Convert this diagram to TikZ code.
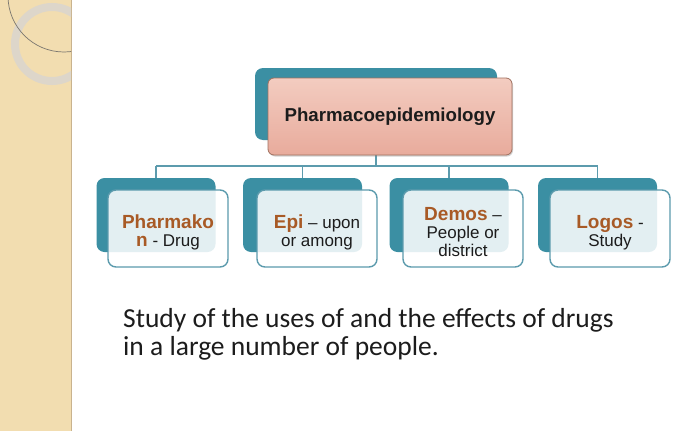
\documentclass[tikz,border=0pt]{standalone}
\usepackage{fontspec}
\setmainfont{Liberation Sans}
\newfontfamily\calibri{Carlito}
\usetikzlibrary{positioning,shadows}
\definecolor{teal1}{HTML}{3B8FA3}
\definecolor{tealline}{HTML}{5C9BAD}
\definecolor{pinkbox}{HTML}{E8AB9C}
\definecolor{pinktop}{HTML}{F3CCC0}
\definecolor{pinkedge}{HTML}{A0705F}
\definecolor{rootword}{HTML}{A85A26}
\definecolor{ink}{HTML}{1C1C1C}
\definecolor{strip}{HTML}{F2DDB0}
\definecolor{stripedge}{HTML}{C9B38E}
\definecolor{ring}{HTML}{DDD6CA}
\newcommand{\rootw}[2][0pt]{{\rule{0pt}{#1}\fontsize{19}{18}\selectfont\bfseries\color{rootword}#2}}

\begin{document}
\begin{tikzpicture}[x=1pt,y=-1pt,
back/.style={fill=teal1,rounded corners=8pt,minimum width=119pt,minimum height=74pt},
front/.style={fill=white,fill opacity=0.86,text opacity=1,draw=tealline,line width=1.4pt,
  rounded corners=8pt,minimum width=120pt,minimum height=77pt,align=center,text=ink,
  font=\fontsize{17}{18}\selectfont},
title/.style={top color=pinktop,bottom color=pinkbox,draw=pinkedge,line width=0.8pt,
  rounded corners=6pt,minimum width=244pt,minimum height=77pt,text=ink,
  font=\fontsize{18.7}{20}\selectfont\bfseries,
  drop shadow={shadow xshift=1pt,shadow yshift=-1.5pt,opacity=0.35}},
bus/.style={draw=tealline,line width=1.8pt}]
\useasboundingbox (0,0) rectangle (684,431);
\fill[white] (0,0) rectangle (684,431);
\fill[strip] (0,0) rectangle (71,431);
\draw[stripedge,line width=1.5pt] (71.5,0) -- (71.5,431);
\begin{scope}
\clip (0,0) rectangle (71,431);
\draw[ring,line width=8pt] (52,44) circle (37pt);
\draw[ring!55!black,line width=0.7pt] (64,-4) circle (56pt);
\end{scope}

\node[back,minimum width=242pt,minimum height=72pt] (tb) at (376,104) {};
\foreach \i/\x in {1/156,2/302.5,3/449,4/597.5}
  \node[back] (b\i) at (\x,215) {};
\coordinate (j) at (376,166);
\draw[bus] (tb.south) -- (j);
\draw[bus] (b1.north |- j) -- (b4.north |- j);
\foreach \i in {1,...,4}
  \draw[bus] (b\i.north |- j) -- (b\i.north);

\node[title] (t) at (390,116.5) {Pharmacoepidemiology};
\node[front] (f1) at (168,228.5) {\rootw[21pt]{Pharmako}\\\rootw{n} - Drug};
\node[front] (f2) at (317,228.5) {\rootw[21pt]{Epi} -- upon\\or among};
\node[front] (f3) at (463,228.5) {\rootw[21pt]{Demos} --\\People or\\district};
\node[front] (f4) at (610,228.5) {\rootw[21pt]{Logos} -\\Study};

\node[anchor=base west,align=left,inner sep=0pt,text=ink,
  font=\calibri\fontsize{27.5}{28}\selectfont] (d) at (123,355)
  {Study of the uses of and the effects of drugs\\in a large number of people.};
\end{tikzpicture}
\end{document}
